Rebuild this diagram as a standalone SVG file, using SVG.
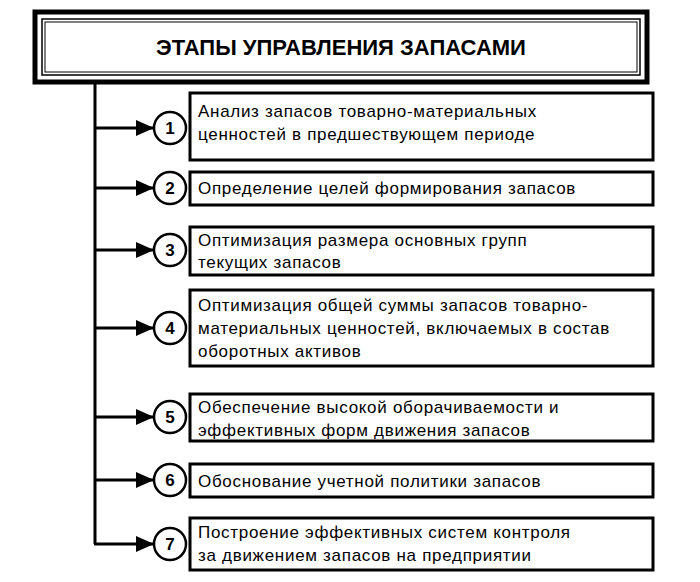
<svg xmlns="http://www.w3.org/2000/svg" width="700" height="582" viewBox="0 0 700 582">
<defs>
<style>
text{font-family:"Liberation Sans",Arial,sans-serif;fill:#000}
.t{font-size:17px;letter-spacing:0.7px}
.n{font-size:17px;font-weight:bold;text-anchor:middle}
.b{fill:#fff;stroke:#000;stroke-width:3}
.c{fill:#fff;stroke:#000;stroke-width:2.5}
.l{stroke:#000;stroke-width:3;fill:none}
.ar{stroke:#000;stroke-width:3;fill:none;marker-end:url(#a)}
</style>
<marker id="a" markerWidth="18" markerHeight="16" refX="17" refY="8" orient="auto" markerUnits="userSpaceOnUse" viewBox="0 0 18 16"><path d="M0,0L18,8L0,16z"/></marker>
</defs>
<g id="header">
<rect x="35" y="12" width="612" height="70" fill="#fff" stroke="#000" stroke-width="5"/>
<rect x="42" y="19" width="598" height="56" fill="none" stroke="#000" stroke-width="1.5"/>
<rect x="45" y="22" width="592" height="50" fill="none" stroke="#000" stroke-width="1"/>
<text x="341" y="55" font-size="22" font-weight="bold" text-anchor="middle">ЭТАПЫ УПРАВЛЕНИЯ ЗАПАСАМИ</text>
</g>
<g id="connectors">
<path class="l" d="M95,82V544"/>
<line class="ar" x1="94" y1="128" x2="153" y2="128"/>
<line class="ar" x1="94" y1="188" x2="153" y2="188"/>
<line class="ar" x1="94" y1="250" x2="153" y2="250"/>
<line class="ar" x1="94" y1="328" x2="153" y2="328"/>
<line class="ar" x1="94" y1="417" x2="153" y2="417"/>
<line class="ar" x1="94" y1="480" x2="153" y2="480"/>
<line class="ar" x1="94" y1="544" x2="153" y2="544"/>
</g>
<g id="n1"><rect class="b" x="190" y="93" width="463" height="67"/><circle class="c" cx="170" cy="128" r="16"/><text class="n" x="170" y="134">1</text>
<text class="t" x="198" y="117">Анализ запасов товарно-материальных</text><text class="t" x="198" y="140">ценностей в предшествующем периоде</text></g>
<g id="n2"><rect class="b" x="190" y="172" width="463" height="33"/><circle class="c" cx="170" cy="188" r="16"/><text class="n" x="170" y="194">2</text>
<text class="t" x="198" y="194">Определение целей формирования запасов</text></g>
<g id="n3"><rect class="b" x="190" y="227" width="463" height="48"/><circle class="c" cx="170" cy="250" r="16"/><text class="n" x="170" y="256">3</text>
<text class="t" x="198" y="246">Оптимизация размера основных групп</text><text class="t" x="198" y="268">текущих запасов</text></g>
<g id="n4"><rect class="b" x="190" y="290" width="463" height="76"/><circle class="c" cx="170" cy="328" r="16"/><text class="n" x="170" y="334">4</text>
<text class="t" x="198" y="311">Оптимизация общей суммы запасов товарно-</text><text class="t" x="198" y="334">материальных ценностей, включаемых в состав</text><text class="t" x="198" y="357">оборотных активов</text></g>
<g id="n5"><rect class="b" x="190" y="394" width="463" height="47"/><circle class="c" cx="170" cy="417" r="16"/><text class="n" x="170" y="423">5</text>
<text class="t" x="198" y="413">Обеспечение высокой оборачиваемости и</text><text class="t" x="198" y="436">эффективных форм движения запасов</text></g>
<g id="n6"><rect class="b" x="190" y="464" width="463" height="33"/><circle class="c" cx="170" cy="480" r="16"/><text class="n" x="170" y="486">6</text>
<text class="t" x="198" y="487">Обоснование учетной политики запасов</text></g>
<g id="n7"><rect class="b" x="190" y="518" width="463" height="52"/><circle class="c" cx="170" cy="544" r="16"/><text class="n" x="170" y="550">7</text>
<text class="t" x="198" y="538">Построение эффективных систем контроля</text><text class="t" x="198" y="561">за движением запасов на предприятии</text></g>
</svg>
